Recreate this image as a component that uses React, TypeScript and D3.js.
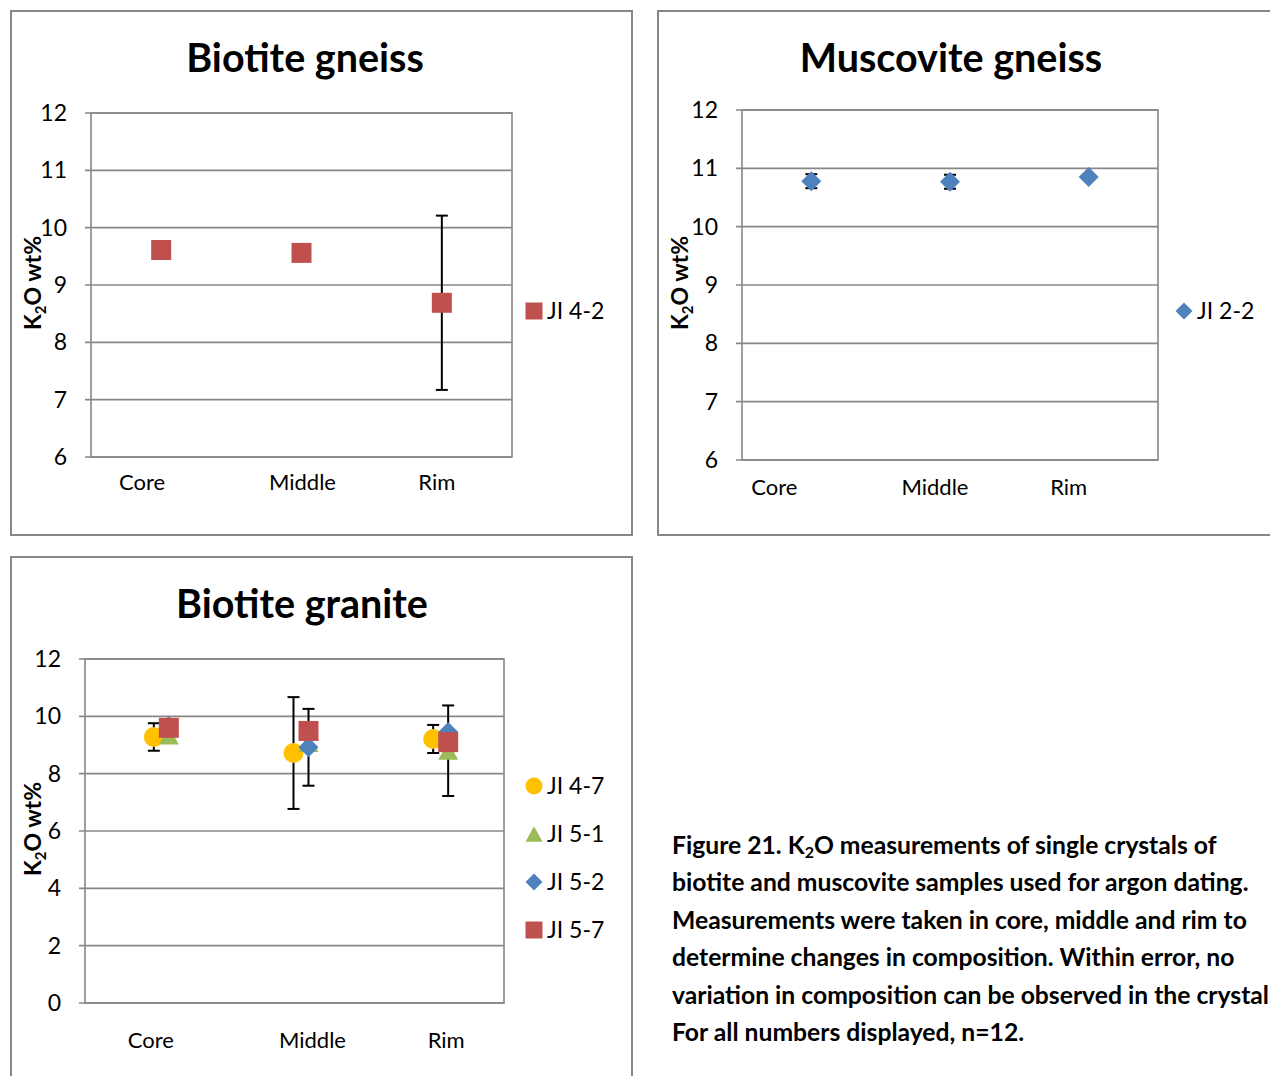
import React from "react";
import * as d3 from "d3";

const categories = ["Core", "Middle", "Rim"];

// Biotite gneiss
const gneissValues = [9.61, 9.56, 8.69];
const gneissErrors = [0, 0, 1.52];

// Muscovite gneiss
const muscoviteValues = [10.78, 10.77, 10.85];
const muscoviteErrors = [0.12, 0.12, 0.03];

// Biotite granite
const granite47Values = [9.28, 8.72, 9.21];
const granite47Errors = [0.48, 1.95, 0.49];
const granite51Values = [9.33, 9.07, 8.8];
const granite51Errors = [0, 0, 1.58];
const granite52Values = [9.66, 8.92, 9.45];
const granite52Errors = [0, 1.34, 0];
const granite57Values = [9.6, 9.49, 9.1];
const granite57Errors = [0, 0, 0];

const ticks6to12 = [6, 7, 8, 9, 10, 11, 12];
const ticks0to12 = [0, 2, 4, 6, 8, 10, 12];

const captionLines = [
  ["Figure 21. K", "2", "O measurements of single crystals of"],
  ["biotite and muscovite samples used for argon dating."],
  ["Measurements were taken in core, middle and rim to"],
  ["determine changes in composition. Within error, no"],
  ["variation in composition can be observed in the crystals."],
  ["For all numbers displayed, n=12."],
];

const RED = "#C0504D";
const BLUE = "#4F81BD";
const GREEN = "#9BBB59";
const YELLOW = "#FFC000";
const GRID = "#878787";
const FONT = "Lato, 'Open Sans', sans-serif";

type Shape = "square" | "diamond" | "circle" | "triangle";

function markerPath(shape: Shape, r: number): string {
  const p = d3.path();
  if (shape === "square") {
    p.rect(-r, -r, 2 * r, 2 * r);
  } else if (shape === "diamond") {
    p.moveTo(0, -r);
    p.lineTo(r, 0);
    p.lineTo(0, r);
    p.lineTo(-r, 0);
    p.closePath();
  } else if (shape === "circle") {
    p.arc(0, 0, r, 0, Math.PI * 2);
  } else {
    p.moveTo(0, -r * 0.9);
    p.lineTo(r, r * 0.9);
    p.lineTo(-r, r * 0.9);
    p.closePath();
  }
  return p.toString();
}

interface Series {
  name: string;
  values: number[];
  errors: number[];
  color: string;
  shape: Shape;
  shift: number;
}

interface PanelProps {
  title: string;
  frame: { x: number; y: number; w: number; h: number };
  plot: { l: number; r: number; t: number; b: number };
  domain: [number, number];
  ticks: number[];
  titleX: number;
  titleY: number;
  labelY: number;
  labelShift: number[];
  legendX: number;
  legendY: number[];
  series: Series[];
}

function Panel(props: PanelProps) {
  const { frame, plot, domain, ticks, series } = props;
  const x = d3.scaleBand<string>().domain(categories).range([plot.l, plot.r]).padding(0);
  const y = d3.scaleLinear().domain(domain).range([plot.b, plot.t]);
  const cx = (c: string) => (x(c) as number) + x.bandwidth() / 2;
  const midY = (plot.t + plot.b) / 2;
  return (
    <g>
      <rect x={frame.x} y={frame.y} width={frame.w} height={frame.h} fill="#fff" stroke={GRID} strokeWidth={2} />
      <text x={props.titleX} y={props.titleY} textAnchor="middle" fontFamily={FONT} fontWeight="bold" fontSize={39.5}>
        {props.title}
      </text>
      {ticks.map((t) => (
        <line key={"g" + t} x1={plot.l - 6} x2={plot.r} y1={y(t)} y2={y(t)} stroke={GRID} strokeWidth={1.6} />
      ))}
      <rect x={plot.l} y={plot.t} width={plot.r - plot.l} height={plot.b - plot.t} fill="none" stroke={GRID} strokeWidth={1.6} />
      {ticks.map((t) => (
        <text key={"t" + t} x={plot.l - 24} y={y(t)} dy="0.35em" textAnchor="end" fontFamily={FONT} fontSize={23} fill="#000">
          {t}
        </text>
      ))}
      {categories.map((c, i) => (
        <text key={c} x={cx(c) + props.labelShift[i]} y={props.labelY} textAnchor="middle" fontFamily={FONT} fontSize={22} fill="#000">
          {c}
        </text>
      ))}
      <text
        transform={`translate(${frame.x + 22},${midY - 2}) rotate(-90)`}
        textAnchor="middle"
        dy="0.35em"
        fontFamily={FONT}
        fontWeight="bold"
        fontSize={23}
      >
        K<tspan fontSize={15} dy={5}>2</tspan>
        <tspan dy={-5}>O wt%</tspan>
      </text>
      {series.map((s) =>
        categories.map((c, i) =>
          s.errors[i] > 0 ? (
            <g key={s.name + c + "e"} stroke="#000" strokeWidth={2}>
              <line x1={cx(c) + s.shift} x2={cx(c) + s.shift} y1={y(s.values[i] + s.errors[i])} y2={y(s.values[i] - s.errors[i])} />
              <line x1={cx(c) + s.shift - 6} x2={cx(c) + s.shift + 6} y1={y(s.values[i] + s.errors[i])} y2={y(s.values[i] + s.errors[i])} />
              <line x1={cx(c) + s.shift - 6} x2={cx(c) + s.shift + 6} y1={y(s.values[i] - s.errors[i])} y2={y(s.values[i] - s.errors[i])} />
            </g>
          ) : null
        )
      )}
      {series.map((s) =>
        categories.map((c, i) => (
          <path
            key={s.name + c}
            d={markerPath(s.shape, 10)}
            transform={`translate(${cx(c) + s.shift},${y(s.values[i])})`}
            fill={s.color}
          />
        ))
      )}
      {series.map((s, i) => (
        <g key={s.name + "l"}>
          <path d={markerPath(s.shape, 8.5)} transform={`translate(${props.legendX},${props.legendY[i]})`} fill={s.color} />
          <text x={props.legendX + 13} y={props.legendY[i]} dy="0.35em" fontFamily={FONT} fontSize={23} fill="#000">
            {s.name}
          </text>
        </g>
      ))}
    </g>
  );
}

export default function App() {
  return (
    <svg width={1270} height={1076} style={{ position: "absolute", left: 0, top: 0 }}>
      <rect x={0} y={0} width={1270} height={1076} fill="#fff" />
      <Panel
        title="Biotite gneiss"
        frame={{ x: 11, y: 11, w: 621, h: 524 }}
        plot={{ l: 91, r: 512, t: 113, b: 457 }}
        domain={[6, 12]}
        ticks={ticks6to12}
        titleX={305}
        titleY={72}
        labelY={490}
        labelShift={[-19, 1, -5]}
        legendX={534}
        legendY={[311]}
        series={[{ name: "JI 4-2", values: gneissValues, errors: gneissErrors, color: RED, shape: "square", shift: 0 }]}
      />
      <Panel
        title="Muscovite gneiss"
        frame={{ x: 658, y: 11, w: 630, h: 524 }}
        plot={{ l: 742, r: 1158, t: 110, b: 460 }}
        domain={[6, 12]}
        ticks={ticks6to12}
        titleX={951}
        titleY={72}
        labelY={495}
        labelShift={[-37, -15, -20]}
        legendX={1184}
        legendY={[311]}
        series={[{ name: "JI 2-2", values: muscoviteValues, errors: muscoviteErrors, color: BLUE, shape: "diamond", shift: 0 }]}
      />
      <Panel
        title="Biotite granite"
        frame={{ x: 11, y: 557, w: 621, h: 530 }}
        plot={{ l: 85, r: 504, t: 659, b: 1003 }}
        domain={[0, 12]}
        ticks={ticks0to12}
        titleX={302}
        titleY={618}
        labelY={1048}
        labelShift={[-4, 18, 12]}
        legendX={534}
        legendY={[786, 834, 882, 930]}
        series={[
          { name: "JI 4-7", values: granite47Values, errors: granite47Errors, color: YELLOW, shape: "circle", shift: -1 },
          { name: "JI 5-1", values: granite51Values, errors: granite51Errors, color: GREEN, shape: "triangle", shift: 14 },
          { name: "JI 5-2", values: granite52Values, errors: granite52Errors, color: BLUE, shape: "diamond", shift: 14 },
          { name: "JI 5-7", values: granite57Values, errors: granite57Errors, color: RED, shape: "square", shift: 14 },
        ]}
      />
      <text fontFamily={FONT} fontWeight="bold" fontSize={24.7} fill="#000">
        {captionLines.map((line, i) => (
          <tspan key={i} x={672} y={854 + i * 37.4}>
            {line.length === 3 ? (
              <>
                {line[0]}
                <tspan fontSize={16} dy={4}>{line[1]}</tspan>
                <tspan dy={-4}>{line[2]}</tspan>
              </>
            ) : (
              line[0]
            )}
          </tspan>
        ))}
      </text>
    </svg>
  );
}
